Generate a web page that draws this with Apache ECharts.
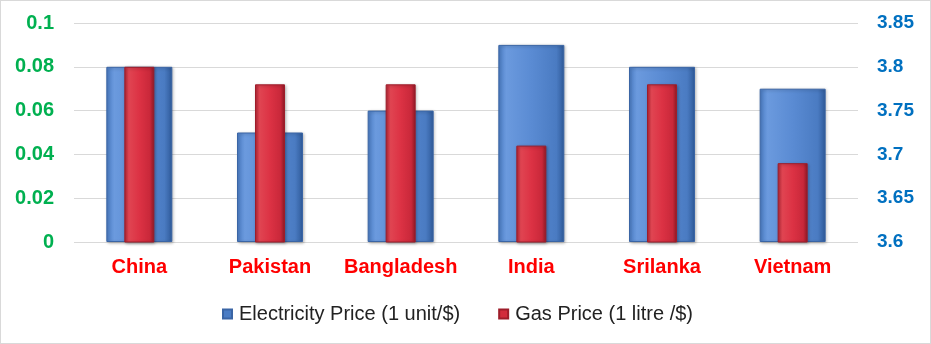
<!DOCTYPE html>
<html><head><meta charset="utf-8">
<script src="https://cdn.jsdelivr.net/npm/echarts@6/dist/echarts.min.js"></script>
<style>html,body{margin:0;padding:0;background:#fff}#c{width:929px;height:342px;border:1px solid #d9d9d9}</style>
</head><body><div id="c"></div>
<script>
var categories = ['China','Pakistan','Bangladesh','India','Srilanka','Vietnam'];
var electricity = [0.08,0.05,0.06,0.09,0.08,0.07];
var gas = [3.80,3.78,3.78,3.71,3.78,3.69];
var seriesNames = ['Electricity Price (1 unit/$)','Gas Price (1 litre /$)'];

var FONT = 'Liberation Sans, Arial, sans-serif';
var blueGrad = new echarts.graphic.LinearGradient(0,0,1,0,[
  {offset:0,color:'#4a7cc4'},{offset:0.12,color:'#6b9ade'},{offset:0.5,color:'#5a8bd3'},{offset:0.88,color:'#4a7bc2'},{offset:1,color:'#2f5a99'}]);
var redGrad = new echarts.graphic.LinearGradient(0,0,1,0,[
  {offset:0,color:'#b82535'},{offset:0.15,color:'#e04552'},{offset:0.5,color:'#dc3244'},{offset:0.85,color:'#c9283a'},{offset:1,color:'#8f1a26'}]);

var chart = echarts.init(document.getElementById('c'), null, {renderer:'canvas'});
chart.setOption({
  animation:false,
  backgroundColor:'#fff',
  grid:{left:73,right:72,top:22,bottom:101},
  legend:{
    top:298, left:216, itemWidth:9, itemHeight:9, itemGap:38,
    icon:'rect',
    textStyle:{fontFamily:FONT,fontSize:20,color:'#222',padding:[0,0,0,2]},
    data:[{name:seriesNames[0],itemStyle:{color:'#4a7cc4'}},{name:seriesNames[1],itemStyle:{color:'#d22c3c'}}]
  },
  xAxis:[{
    type:'category', data:categories,
    axisLine:{show:false}, axisTick:{show:false},
    axisLabel:{interval:0,color:'#ff0000',fontWeight:'bold',fontSize:20,fontFamily:FONT,margin:15}
  },{
    type:'category', data:categories, show:false
  }],
  yAxis:[
    {type:'value',min:0,max:0.1,interval:0.02,
     axisLine:{show:false},axisTick:{show:false},
     splitLine:{lineStyle:{color:'#d9d9d9',width:1}},
     axisLabel:{color:'#00b050',fontWeight:'bold',fontSize:20,fontFamily:FONT,margin:20}},
    {type:'value',min:3.6,max:3.85,interval:0.05,
     axisLine:{show:false},axisTick:{show:false},splitLine:{show:false},
     axisLabel:{color:'#0070c0',fontWeight:'bold',fontSize:19,fontFamily:FONT,margin:19}}
  ],
  series:[
    {name:seriesNames[0],type:'bar',xAxisIndex:0,yAxisIndex:0,data:electricity,barWidth:66,
     itemStyle:{color:blueGrad,borderColor:'#3a65a5',borderWidth:1,shadowColor:'rgba(0,0,0,0.25)',shadowBlur:3,shadowOffsetX:1,shadowOffsetY:1}},
    {name:seriesNames[1],type:'bar',xAxisIndex:1,yAxisIndex:1,data:gas,barWidth:30,z:3,
     itemStyle:{color:redGrad,borderColor:'#9e1d2a',borderWidth:1,shadowColor:'rgba(0,0,0,0.3)',shadowBlur:3,shadowOffsetX:1,shadowOffsetY:1}}
  ]
});
</script></body></html>
